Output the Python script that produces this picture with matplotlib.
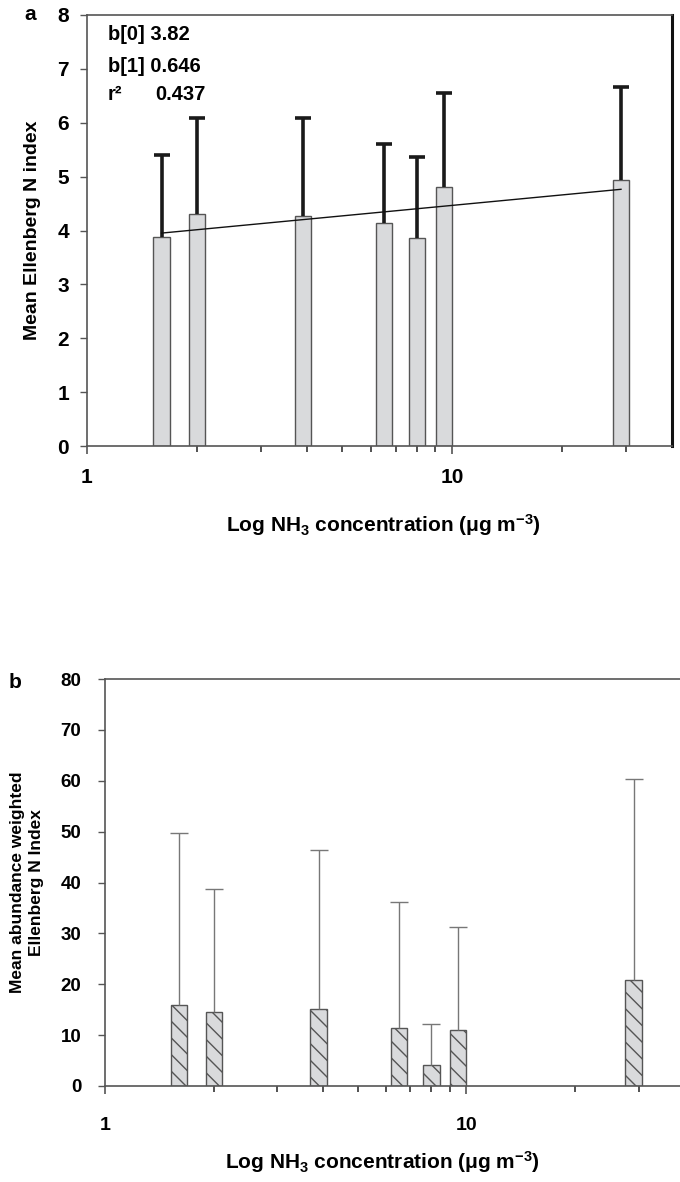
import matplotlib
matplotlib.use("Agg")
import matplotlib.pyplot as plt
from matplotlib.ticker import FixedLocator, NullFormatter
import numpy as np

plt.rcParams['font.family'] = ['Liberation Sans', 'DejaVu Sans']
plt.rcParams['font.weight'] = 'bold'
plt.rcParams['mathtext.fontset'] = 'custom'
plt.rcParams['mathtext.rm'] = 'Liberation Sans:bold'
plt.rcParams['mathtext.default'] = 'rm'
plt.rcParams['hatch.color'] = '#333333'
plt.rcParams['hatch.linewidth'] = 1.0

# NH3 concentration at each site (ug m-3)
nh3 = [1.6, 2.0, 3.9, 6.5, 8.0, 9.5, 29.0]

# panel a: mean Ellenberg N index and upper error
ell_mean = [3.88, 4.31, 4.27, 4.14, 3.86, 4.80, 4.93]
ell_upper = [5.40, 6.08, 6.08, 5.60, 5.36, 6.55, 6.67]
b0, b1, r2 = 3.82, 0.646, 0.437

# panel b: mean abundance weighted Ellenberg N index and upper error
abw_mean = [16.0, 14.5, 15.1, 11.4, 4.1, 11.1, 20.8]
abw_upper = [49.8, 38.7, 46.4, 36.1, 12.1, 31.3, 60.4]

x_minor = [2, 3, 4, 5, 6, 7, 8, 9, 20, 30]
xlabel = r'Log NH$_3$ concentration ($\mu$g m$^{-3}$)'

W, H = 680, 1182
fig = plt.figure(figsize=(W / 100, H / 100), dpi=100)


def px_axes(left, top, right, bottom):
    return fig.add_axes([left / W, 1 - bottom / H, (right - left) / W, (bottom - top) / H])


def log_bars(ax, x, h, hw=0.0225, **kw):
    x = np.asarray(x)
    left = x * 10 ** -hw
    width = x * (10 ** hw - 10 ** -hw)
    ax.bar(left, h, width=width, align='edge', **kw)


def upper_err(ax, x, lo, hi, color, lw, cap):
    # only the upper whisker with one cap, like the original
    ax.vlines(x, lo, hi, colors=color, linewidth=lw, zorder=3)
    ax.plot(x, hi, ls='none', marker='_', ms=cap, mew=lw, color=color, zorder=3)


def style_xaxis(ax, pad):
    ax.set_xscale('log')
    ax.set_xlim(1, 40)
    ax.xaxis.set_major_locator(FixedLocator([1, 10]))
    ax.set_xticklabels(['1', '10'])
    ax.xaxis.set_minor_locator(FixedLocator(x_minor))
    ax.xaxis.set_minor_formatter(NullFormatter())
    ax.tick_params(axis='x', which='major', length=6, width=1.2, color='#555555', pad=pad)
    ax.tick_params(axis='x', which='minor', length=4, width=1.2, color='#333333')


# ---- panel a ----
ax = px_axes(87, 15, 672, 446)
log_bars(ax, nh3, ell_mean, facecolor='#d9dadc', edgecolor='#555555', linewidth=1.0, zorder=2)
upper_err(ax, nh3, ell_mean, ell_upper, '#1a1a1a', 2.6, 12)
xf = np.array([nh3[0], nh3[-1]])
ax.plot(xf, b0 + b1 * np.log10(xf), color='#111111', lw=1.0, zorder=4)
style_xaxis(ax, 10)
ax.set_ylim(0, 8)
ax.set_yticks(range(0, 9))
ax.tick_params(axis='y', length=5, width=1, color='#555555', labelsize=15, pad=8)
ax.tick_params(axis='x', labelsize=15)
for s in ['left', 'bottom', 'top']:
    ax.spines[s].set_color('#555555')
    ax.spines[s].set_linewidth(1.2)
ax.spines['right'].set_color('#111111')
ax.spines['right'].set_linewidth(2.2)
ax.set_ylabel('Mean Ellenberg N index', fontsize=14, fontweight='bold', labelpad=12)
fig.text(383 / W, 1 - 525 / H, xlabel, fontsize=15, fontweight='bold', ha='center', va='center')

ax.text(108 / W, 1 - 35 / H, 'b[0] 3.82', transform=fig.transFigure, fontsize=14.5, va='center')
ax.text(108 / W, 1 - 66 / H, 'b[1] 0.646', transform=fig.transFigure, fontsize=14.5, va='center')
ax.text(108 / W, 1 - 95 / H, 'r\u00b2', transform=fig.transFigure, fontsize=14.5, va='center')
ax.text(155 / W, 1 - 95 / H, '0.437', transform=fig.transFigure, fontsize=14.5, va='center')
fig.text(30 / W, 1 - 14 / H, 'a', fontsize=15, fontweight='bold', va='center', ha='center')

# ---- panel b ----
bx = px_axes(105, 679, 684, 1086)
log_bars(bx, nh3, abw_mean, facecolor='#d9dadc', edgecolor='#555555', linewidth=1.0,
         hatch='\\\\', zorder=2)
upper_err(bx, nh3, abw_mean, abw_upper, '#777777', 1.0, 13)
style_xaxis(bx, 16)
bx.set_ylim(0, 80)
bx.set_yticks(range(0, 81, 10))
bx.tick_params(axis='y', length=5, width=1, color='#555555', labelsize=13.5, pad=12)
bx.tick_params(axis='x', labelsize=14)
for s in ['left', 'bottom', 'top', 'right']:
    bx.spines[s].set_color('#555555')
    bx.spines[s].set_linewidth(1.2)
bx.set_ylabel('Mean abundance weighted\nEllenberg N Index', fontsize=12.5, fontweight='bold',
              labelpad=12, linespacing=1.3)
fig.text(382 / W, 1 - 1162 / H, xlabel, fontsize=15, fontweight='bold', ha='center', va='center')
fig.text(15 / W, 1 - 683 / H, 'b', fontsize=15, fontweight='bold', va='center', ha='center')

fig.savefig('out.png', dpi=100)
